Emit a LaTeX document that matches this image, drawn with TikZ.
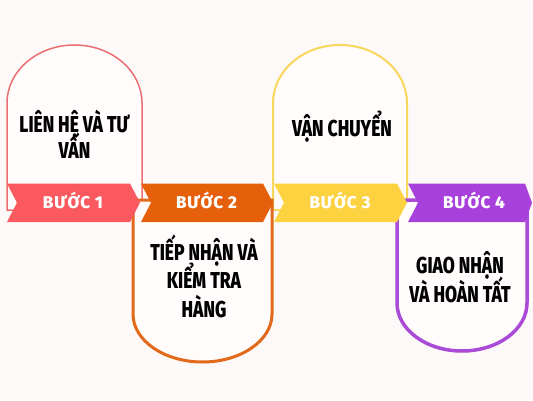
\documentclass[tikz,border=0pt]{standalone}
\usepackage{fontspec}
\newfontfamily\cardfont[FakeStretch=0.76]{Fira Sans ExtraBold}
\newfontfamily\stepfont[LetterSpace=5]{Fira Sans ExtraBold}
\definecolor{bgc}{RGB}{253,249,248}
\definecolor{cardfill}{RGB}{255,252,251}
\definecolor{redb}{RGB}{250,90,95}
\definecolor{orangeb}{RGB}{230,95,10}
\definecolor{yellowb}{RGB}{253,210,65}
\definecolor{purpleb}{RGB}{168,64,220}
\definecolor{redl}{RGB}{235,110,115}
\definecolor{orangel}{RGB}{225,105,25}
\definecolor{yellowl}{RGB}{248,215,90}
\definecolor{purplel}{RGB}{170,75,215}
\begin{document}
\begin{tikzpicture}[x=1pt,y=1pt,
  cardtext/.style={anchor=base,inner sep=0pt,font=\cardfont\fontsize{23}{26}\selectfont,text=black},
  steptext/.style={anchor=base,inner sep=0pt,font=\stepfont\fontsize{17}{19}\selectfont,text=white}]
\useasboundingbox (0,0) rectangle (533,400);
\fill[bgc] (0,0) rectangle (533,400);
% top cards
\draw[redl,line width=1.5pt,fill=cardfill] (7,190) -- (7,297) arc[start angle=180,end angle=0,x radius=67.5,y radius=58] -- (142,190) -- cycle;
\draw[yellowl,line width=2pt,fill=cardfill] (273,190) -- (273,297) arc[start angle=180,end angle=0,x radius=67,y radius=58] -- (407,190) -- cycle;
% bottom cards
\draw[orangel,line width=3pt,fill=cardfill] (133,200) -- (133,86) arc[start angle=180,end angle=360,x radius=69.5,y radius=48] -- (272,200) -- cycle;
\draw[purplel,line width=3.5pt,fill=cardfill] (397,200) -- (397,97) arc[start angle=180,end angle=360,x radius=65,y radius=48] -- (527,200) -- cycle;
% banner
\fill[redb] (7,216.5) -- (130,216.5) -- (140,197.25) -- (130,178) -- (7,178) -- (17,197.25) -- cycle;
\fill[orangeb] (141,216.5) -- (263,216.5) -- (273,197.25) -- (263,178) -- (141,178) -- (151,197.25) -- cycle;
\fill[yellowb] (274,216.5) -- (397,216.5) -- (407,197.25) -- (397,178) -- (274,178) -- (284,197.25) -- cycle;
\fill[purpleb] (408,216.5) -- (525,216.5) -- (532,197.25) -- (525,178) -- (408,178) -- (418,197.25) -- cycle;
% step labels
\node[steptext] (s1) at (73,192) {BƯỚC 1};
\node[steptext] (s2) at (206.5,192) {BƯỚC 2};
\node[steptext] (s3) at (340,192) {BƯỚC 3};
\node[steptext] (s4) at (474,192) {BƯỚC 4};
% card texts
\node[cardtext] (c1a) at (74.5,268) {LIÊN HỆ VÀ TƯ};
\node[cardtext] (c1b) at (74.5,242) {VẤN};
\node[cardtext] (c3a) at (342,263.3) {VẬN CHUYỂN};
\node[cardtext] (c2a) at (204,140) {TIẾP NHẬN VÀ};
\node[cardtext] (c2b) at (204,111.5) {KIỂM TRA};
\node[cardtext] (c2c) at (204,83) {HÀNG};
\node[cardtext] (c4a) at (460,126.7) {GIAO NHẬN};
\node[cardtext] (c4b) at (460,97.3) {VÀ HOÀN TẤT};
\end{tikzpicture}
\end{document}
